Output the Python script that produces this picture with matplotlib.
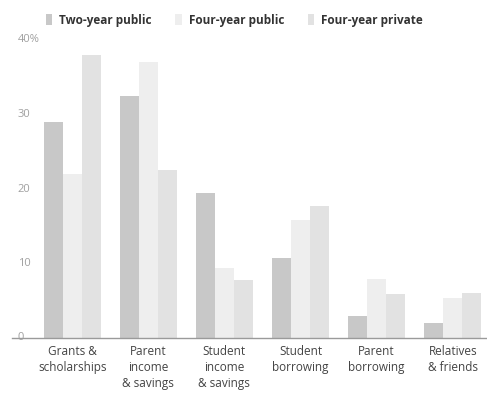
import matplotlib
matplotlib.use("Agg")
import matplotlib.pyplot as plt
import numpy as np

categories = ["Grants &\nscholarships", "Parent\nincome\n& savings", "Student\nincome\n& savings",
              "Student\nborrowing", "Parent\nborrowing", "Relatives\n& friends"]
series_names = ["Two-year public", "Four-year public", "Four-year private"]
two_year_public = [29, 32.5, 19.5, 10.8, 3.0, 2.0]
four_year_public = [22, 37, 9.4, 15.8, 7.9, 5.4]
four_year_private = [38, 22.5, 7.8, 17.7, 5.9, 6.0]
ytick_vals = [0, 10, 20, 30, 40]
ytick_labels = ["0", "10", "20", "30", "40%"]

colors = ["#c8c8c8", "#eeeeee", "#e2e2e2"]

plt.rcParams['font.family'] = ['Open Sans', 'DejaVu Sans']

W, H = 487, 394
fig = plt.figure(figsize=(W / 100, H / 100), dpi=100)
ax = fig.add_axes([12 / W, 56 / H, (487 - 12) / W, 298 / H])

x = np.arange(len(categories))
bw = 0.25
for i, (vals, c, name) in enumerate(zip([two_year_public, four_year_public, four_year_private],
                                        colors, series_names)):
    ax.bar(x + (i - 1) * bw, vals, width=bw, color=c, label=name, edgecolor='none')

ax.set_xlim(-0.79, 5.45)
ax.set_ylim(0, 40)
for s in ax.spines.values():
    s.set_visible(False)
ax.axhline(0, color="#9a9a9a", lw=1.0, clip_on=False)

ax.set_yticks(ytick_vals)
ax.set_yticklabels(ytick_labels)
ax.tick_params(axis='y', length=0, pad=-4, labelsize=8, labelcolor="#a0a0a0")
for lbl in ax.get_yticklabels():
    lbl.set_horizontalalignment('left')
    lbl.set_verticalalignment('center')

ax.set_xticks(x)
ax.set_xticklabels(categories, fontsize=8.5, color="#444444", linespacing=1.3)
ax.tick_params(axis='x', length=0, pad=5)

leg = fig.legend(loc='upper left', bbox_to_anchor=(35 / W, 1 - 3 / H), ncol=3, frameon=False,
                 handlelength=0.55, handleheight=1.0, handletextpad=0.6, columnspacing=2.0,
                 prop={'weight': 'bold', 'size': 8.5})
for t in leg.get_texts():
    t.set_color("#333333")

fig.savefig("out.png", dpi=100, facecolor="white")
